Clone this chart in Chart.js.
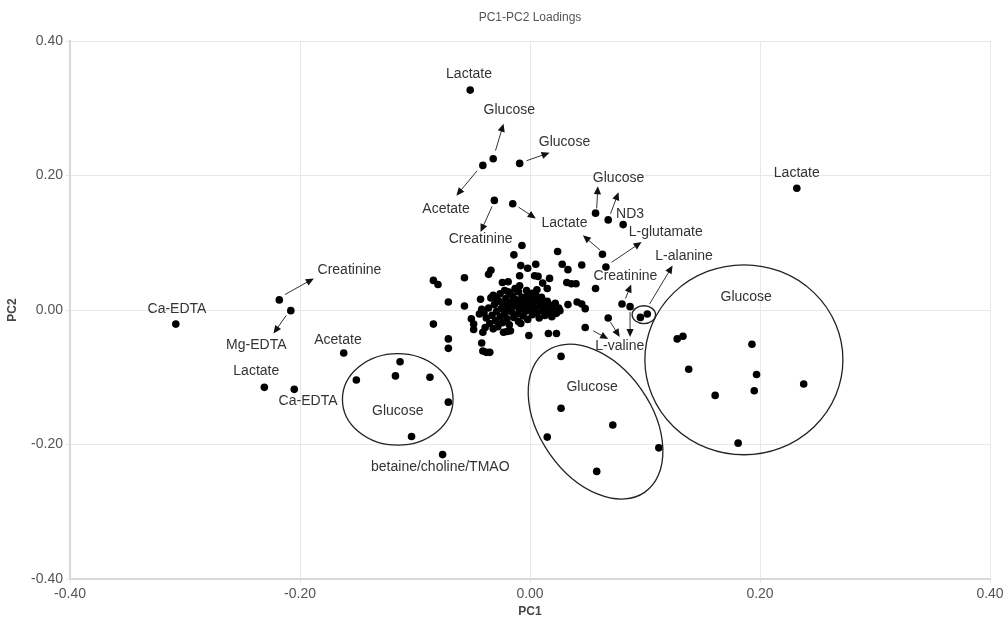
<!DOCTYPE html>
<html>
<head>
<meta charset="utf-8">
<script src="https://cdn.jsdelivr.net/npm/chart.js@4.4.1/dist/chart.umd.min.js"></script>
<style>
  html, body { margin: 0; padding: 0; background: #fff; }
  #wrap { width: 1008px; height: 621px; position: relative; }
</style>
</head>
<body>
<div id="wrap"><canvas id="chart"></canvas></div>
<script>
// loadings (PC1, PC2)
const pc1 = [
  -0.052, -0.032, -0.041, -0.009, -0.031, -0.015, 0.057, 0.068, 0.081, 0.232,
  0.063, 0.066, 0.080, 0.087, 0.068, 0.048, 0.096, 0.102,
  0.024, 0.028, 0.033, 0.045, 0.032, 0.036, 0.040, 0.017, 0.057, 0.033, 0.041, 0.045, 0.048, 0.016, 0.023,
  0.027, 0.027, 0.072, 0.015, 0.112, 0.058,
  0.128, 0.133, 0.193, 0.138, 0.197, 0.195, 0.161, 0.238, 0.181,
  -0.308, -0.218, -0.208, -0.162, -0.231, -0.205,
  -0.113, -0.117, -0.151, -0.087, -0.071, -0.103, -0.076,
  -0.084, -0.080, -0.057, -0.071, -0.057, -0.084, -0.071, -0.071,
  -0.007, -0.014, -0.008, -0.002, 0.005, -0.034, -0.036, -0.009, 0.004, 0.007,
  -0.024, -0.019, 0.011, 0.015, -0.022, -0.019, -0.009, -0.002, -0.004, -0.043, -0.032, -0.029,
  -0.051, -0.049, -0.049, -0.041, -0.042, -0.041, -0.038, -0.035, -0.023, -0.017, -0.001, -0.020,
  -0.040, -0.038, -0.036, -0.035, -0.033, -0.031, -0.030, -0.029, -0.028, -0.027, -0.026, -0.025,
  -0.024, -0.023, -0.022, -0.021, -0.020, -0.019, -0.018, -0.017, -0.016, -0.015, -0.014, -0.013,
  -0.012, -0.011, -0.010, -0.010, -0.009, -0.008, -0.007, -0.006, -0.005, -0.004, -0.004, -0.003,
  -0.002, -0.001, 0.000, 0.001, 0.002, 0.003, 0.004, 0.005, 0.006, 0.007, 0.008, 0.009,
  0.010, 0.011, 0.012, 0.013, 0.014, 0.015, 0.016, 0.018, 0.019, 0.020, 0.022, 0.023,
  0.025, 0.026, -0.034, -0.044, -0.042, -0.039, -0.032, -0.026, -0.018, -0.008, 0.002, 0.006, -0.013
];
const pc2 = [
  0.327, 0.225, 0.215, 0.218, 0.163, 0.158, 0.144, 0.134, 0.127, 0.181,
  0.083, 0.064, 0.009, 0.005, -0.012, -0.026, -0.011, -0.006,
  0.087, 0.068, 0.060, 0.067, 0.041, 0.039, 0.039, 0.047, 0.032, 0.008, 0.012, 0.009, 0.002, -0.035, -0.035,
  -0.069, -0.146, -0.171, -0.189, -0.205, -0.240,
  -0.043, -0.039, -0.051, -0.088, -0.096, -0.120, -0.127, -0.110, -0.198,
  -0.021, 0.015, -0.001, -0.064, -0.115, -0.118,
  -0.077, -0.098, -0.104, -0.100, -0.137, -0.188, -0.215,
  0.044, 0.038, 0.048, 0.012, 0.006, -0.021, -0.043, -0.057,
  0.096, 0.082, 0.066, 0.062, 0.068, 0.059, 0.053, 0.051, 0.051, 0.050,
  0.041, 0.042, 0.040, 0.032, 0.029, 0.027, 0.036, 0.022, 0.019, 0.016, 0.022, 0.017,
  -0.013, -0.021, -0.029, -0.033, -0.049, -0.061, -0.063, -0.063, -0.033, -0.031, -0.038, -0.032,
  -0.004, -0.012, 0.003, -0.020, -0.008, 0.008, -0.016, -0.002, -0.025, 0.013, -0.010, 0.002,
  -0.019, 0.009, -0.005, 0.017, -0.013, 0.004, -0.022, 0.011, -0.003, 0.021, -0.011, 0.006,
  0.015, -0.006, 0.027, -0.017, 0.001, 0.010, 0.019, -0.009, 0.005, 0.013, -0.002, 0.029,
  -0.014, 0.008, 0.000, 0.017, -0.007, 0.011, 0.003, 0.022, -0.004, 0.014, -0.012, 0.006,
  0.019, -0.001, 0.010, -0.008, 0.004, 0.013, -0.003, 0.007, -0.010, 0.001, 0.010, -0.005,
  0.003, -0.001, 0.018, -0.006, 0.001, -0.026, -0.028, 0.024, 0.026, -0.020, 0.025, 0.030, 0.032
];

const tickValues = [-0.4, -0.2, 0, 0.2, 0.4];
const tickLabels = ["-0.40", "-0.20", "0.00", "0.20", "0.40"];

// annotation labels
const labelNames = ["Lactate", "Glucose", "Glucose", "Acetate", "Creatinine", "Lactate", "Glucose", "ND3",
  "L-glutamate", "Creatinine", "L-alanine", "L-valine", "Glucose", "Glucose", "Glucose", "Lactate",
  "Ca-EDTA", "Creatinine", "Mg-EDTA", "Acetate", "Lactate", "Ca-EDTA", "betaine/choline/TMAO"];
const labelX = [-0.053, -0.018, 0.030, -0.073, -0.043, 0.030, 0.077, 0.087,
  0.118, 0.083, 0.134, 0.078, 0.188, 0.054, -0.115, 0.232,
  -0.307, -0.157, -0.238, -0.167, -0.238, -0.193, -0.078];
const labelY = [0.350, 0.297, 0.250, 0.150, 0.105, 0.129, 0.196, 0.143,
  0.116, 0.050, 0.080, -0.054, 0.019, -0.114, -0.151, 0.203,
  0.001, 0.059, -0.052, -0.045, -0.091, -0.136, -0.233];

// arrows: from -> to
const arrowX0 = [-0.030, -0.003, -0.046, -0.033, -0.010, 0.058, 0.070, 0.061, 0.071, 0.083, 0.087, 0.070, 0.055, 0.104, -0.213, -0.212];
const arrowY0 = [0.237, 0.222, 0.207, 0.154, 0.153, 0.151, 0.143, 0.089, 0.071, 0.017, -0.003, -0.018, -0.031, 0.009, 0.023, -0.008];
const arrowX1 = [-0.023, 0.017, -0.064, -0.043, 0.005, 0.059, 0.077, 0.046, 0.097, 0.088, 0.087, 0.078, 0.068, 0.124, -0.188, -0.223];
const arrowY1 = [0.277, 0.234, 0.170, 0.116, 0.136, 0.184, 0.175, 0.111, 0.101, 0.038, -0.040, -0.040, -0.043, 0.066, 0.047, -0.035];

// group ellipses (centre in data units, semi-axes in PC1 units, rotation in degrees)
const ellipseX = [-0.115, 0.057, 0.186, 0.099];
const ellipseY = [-0.133, -0.166, -0.074, -0.007];
const ellipseA = [0.0481, 0.0748, 0.0861, 0.0102];
const ellipseB = [0.0398, 0.0487, 0.0826, 0.0078];
const ellipseRot = [0, 55, 0, 0];

const overlay = {
  id: "overlay",
  afterDatasetsDraw(chart) {
    const { ctx, chartArea } = chart;
    const xs = chart.scales.x, ys = chart.scales.y;
    ctx.save();

    ctx.strokeStyle = "#222";
    ctx.lineWidth = 1.3;
    ellipseX.forEach((cx, i) => {
      const px = xs.getPixelForValue(cx);
      const py = ys.getPixelForValue(ellipseY[i]);
      const a = Math.abs(xs.getPixelForValue(cx + ellipseA[i]) - px);
      const b = Math.abs(xs.getPixelForValue(cx + ellipseB[i]) - px);
      ctx.beginPath();
      ctx.ellipse(px, py, a, b, ellipseRot[i] * Math.PI / 180, 0, Math.PI * 2);
      ctx.stroke();
    });

    ctx.strokeStyle = "#333";
    ctx.fillStyle = "#111";
    ctx.lineWidth = 1;
    arrowX0.forEach((x0, i) => {
      const ax = xs.getPixelForValue(x0), ay = ys.getPixelForValue(arrowY0[i]);
      const bx = xs.getPixelForValue(arrowX1[i]), by = ys.getPixelForValue(arrowY1[i]);
      const ang = Math.atan2(by - ay, bx - ax);
      const len = 8, half = 3.6;
      ctx.beginPath();
      ctx.moveTo(ax, ay);
      ctx.lineTo(bx - Math.cos(ang) * len * 0.8, by - Math.sin(ang) * len * 0.8);
      ctx.stroke();
      ctx.beginPath();
      ctx.moveTo(bx, by);
      ctx.lineTo(bx - Math.cos(ang) * len - Math.sin(ang) * half, by - Math.sin(ang) * len + Math.cos(ang) * half);
      ctx.lineTo(bx - Math.cos(ang) * len + Math.sin(ang) * half, by - Math.sin(ang) * len - Math.cos(ang) * half);
      ctx.closePath();
      ctx.fill();
    });

    ctx.fillStyle = "#333";
    ctx.font = "14px 'Liberation Sans', Arial, sans-serif";
    ctx.textAlign = "center";
    ctx.textBaseline = "middle";
    labelNames.forEach((t, i) => {
      ctx.fillText(t, xs.getPixelForValue(labelX[i]), ys.getPixelForValue(labelY[i]));
    });

    // titles
    const midX = (chartArea.left + chartArea.right) / 2;
    ctx.fillStyle = "#555";
    ctx.font = "12px 'Liberation Sans', Arial, sans-serif";
    ctx.fillText("PC1-PC2 Loadings", midX, 18);
    ctx.fillStyle = "#444";
    ctx.font = "bold 12px 'Liberation Sans', Arial, sans-serif";
    ctx.fillText("PC1", midX, 612);
    ctx.translate(13, (chartArea.top + chartArea.bottom) / 2);
    ctx.rotate(-Math.PI / 2);
    ctx.fillText("PC2", 0, 0);
    ctx.restore();
  }
};

const fixTicks = (scale) => {
  scale.ticks = tickValues.map((v) => ({ value: v }));
};

new Chart(document.getElementById("chart"), {
  type: "scatter",
  data: {
    datasets: [{
      data: pc1.map((v, i) => ({ x: v, y: pc2[i] })),
      backgroundColor: "#000",
      borderColor: "#000",
      borderWidth: 0,
      pointRadius: 3.8,
      pointHoverRadius: 3.8
    }]
  },
  options: {
    responsive: true,
    maintainAspectRatio: false,
    animation: false,
    events: [],
    layout: { padding: { top: 41, right: 18, left: 0, bottom: 0 } },
    plugins: { legend: { display: false }, tooltip: { enabled: false } },
    scales: {
      x: {
        type: "linear",
        min: -0.4,
        max: 0.4,
        afterBuildTicks: fixTicks,
        afterFit: (s) => { s.height = 42; },
        grid: { color: "#e8e8e8", tickLength: 4 },
        border: { color: "#d8d8d8", width: 2 },
        ticks: {
          padding: 3,
          color: "#555",
          font: { family: "'Liberation Sans Narrow', 'Liberation Sans', Arial", size: 14 },
          maxRotation: 0,
          callback: (v) => tickLabels[tickValues.findIndex((t) => Math.abs(t - v) < 1e-9)]
        }
      },
      y: {
        type: "linear",
        min: -0.4,
        max: 0.4,
        afterBuildTicks: fixTicks,
        afterFit: (s) => { s.width = 70; },
        grid: { color: "#e8e8e8", tickLength: 4 },
        border: { color: "#d8d8d8", width: 2 },
        ticks: {
          padding: 3,
          color: "#555",
          font: { family: "'Liberation Sans', Arial", size: 14 },
          callback: (v) => tickLabels[tickValues.findIndex((t) => Math.abs(t - v) < 1e-9)]
        }
      }
    }
  },
  plugins: [overlay]
});
</script>
</body>
</html>
